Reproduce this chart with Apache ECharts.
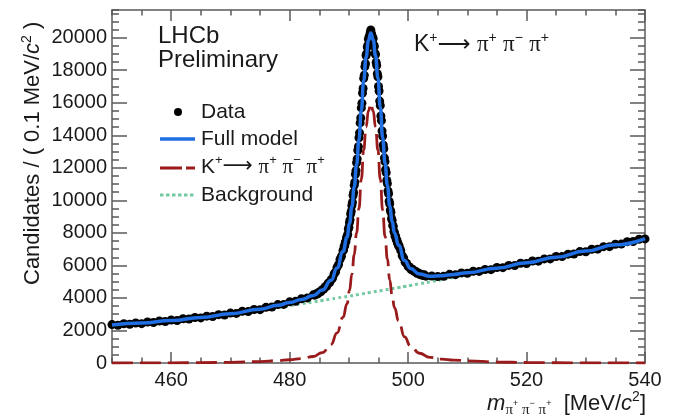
<!DOCTYPE html>
<html>
<head>
<meta charset="utf-8">
<script src="https://cdn.jsdelivr.net/npm/echarts@6/dist/echarts.min.js"></script>
<style>html,body{margin:0;padding:0;background:#fff;}#c{width:678px;height:415px;}</style>
</head>
<body>
<div id="c"></div>
<script>
// ---------- data ----------
const xMin = 450, xMax = 540, yMin = 0, yMax = 21700;
const xTickLabels = [460, 480, 500, 520, 540];
const yTickLabels = [0, 2000, 4000, 6000, 8000, 10000, 12000, 14000, 16000, 18000, 20000];

// model curves sampled on a common grid of m values (MeV/c^2)
const curveX = [450,455,460,465,470,475,478,480,482,484,485.5,487,488,489,489.7,
  490.1,490.5,490.9,491.3,491.7,492.1,492.5,492.9,493.3,493.7,
  494.1,494.5,494.9,495.3,495.7,496.1,496.5,496.9,497.3,497.7,
  498.4,499.4,500.4,501.9,503.7,505.7,507.7,510,515,520,525,530,535,540];
const fullModelY = [2330,2455,2610,2800,3030,3310,3545,3720,3910,4150,4480,5080,5840,6850,7740,
  8565,9590,10815,12190,13715,15540,17365,18790,19815,20290,
  19865,18890,17515,15740,13865,12290,10915,9640,8715,7990,
  7235,6300,5815,5470,5330,5370,5445,5550,5830,6160,6505,6878,7264,7650];
const signalY = [0,5,10,20,40,90,145,200,270,400,640,1150,1850,2800,3650,
  4450,5450,6650,8000,9500,11300,13100,14500,15500,15950,
  15500,14500,13100,11300,9400,7800,6400,5100,4150,3400,
  2600,1600,1050,600,340,240,180,130,60,30,15,8,4,0];
const backgroundY = [2330,2450,2600,2780,2990,3220,3400,3520,3640,3750,3840,3930,3990,4050,4090,
  4115,4140,4165,4190,4215,4240,4265,4290,4315,4340,
  4365,4390,4415,4440,4465,4490,4515,4540,4565,4590,
  4635,4700,4765,4870,4990,5130,5265,5420,5770,6130,6490,6870,7260,7650];

// data points: bin centres come in segments of different spacing
const dataSegments = [[450, 484, 1], [484.25, 488.75, 0.25], [489, 498.5, 0.1], [498.75, 503, 0.25], [504, 540, 1]];
const dataY = [
  2360,2320,2410,2380,2460,2420,2520,2490,2580,2550,
  2640,2610,2720,2700,2800,2770,2880,2860,2970,2950,
  3070,3050,3180,3160,3290,3280,3420,3440,3590,3600,
  3760,3790,3950,4000,4190,
  4170,4260,4250,4370,4380,4510,4540,4690,4720,4900,4940,5120,5220,5470,5600,5880,6050,6370,6560,
  6900,6950,7180,7210,7420,7460,7690,7790,7910,8230,
  8340,8640,8800,9160,9310,9680,9870,10300,10480,10920,
  11120,11600,11830,12310,12540,13080,13300,13850,14150,14760,
  15060,15680,15970,16600,16880,17500,17690,18220,18400,18900,
  19020,19420,19530,19900,20050,20120,20300,20470,20260,20150,
  19900,19950,19560,19460,19050,18960,18480,18290,17780,17600,
  17000,16720,16100,15830,15190,14900,14260,13950,13400,13170,
  12610,12380,11880,11700,11220,11030,10580,10410,9950,9780,
  9400,9270,8890,8770,8460,8400,8090,8010,7790,7800,
  7580,7570,7370,7350,7190,7180,
  6920,6600,6460,6200,6120,5930,5900,5750,5760,5630,5640,5520,5540,5430,5460,5380,5420,5340,
  5350,5310,5330,5450,5430,5540,5520,5640,5630,5750,
  5740,5870,5860,6000,5990,6130,6120,6270,6260,6400,
  6400,6550,6540,6690,6700,6850,6840,6990,7000,7150,
  7150,7300,7310,7460,7470,7610,7630
];

// ---------- build ----------
function binCentres(segs) {
  const out = [];
  segs.forEach(([a, b, s]) => {
    const n = Math.round((b - a) / s);
    for (let i = 0; i <= n; i++) out.push(Math.round((a + i * s) * 100) / 100);
  });
  return out;
}
const dataX = binCentres(dataSegments);
const dataPts = dataX.map((x, i) => [x, dataY[i]]);
const pair = (ys) => curveX.map((x, i) => [x, ys[i]]);

const FAM = '"Liberation Sans", Arial, Helvetica, sans-serif';
const SERIF = '"Liberation Serif", "Times New Roman", serif';
const TXT = '#1a1a1a';
const AX = '#5a5a5a';
const BLUE = '#1f6fe3', RED = '#991b1b', GREEN = '#74c9a2';
const f = (size, st) => (st ? st + ' ' : '') + size + 'px ' + FAM;

function rich(size, lh) {
  return {
    n: {font: f(size), fill: TXT, lineHeight: lh},
    ar: {font: size + 'px "DejaVu Sans", ' + FAM, fill: TXT, lineHeight: lh},
    it: {font: f(size, 'italic'), fill: TXT, lineHeight: lh},
    pi: {font: size + 'px ' + SERIF, fill: TXT, lineHeight: lh},
    sp: {font: f(Math.round(size * 0.62)), fill: TXT, verticalAlign: 'top'},
    sb: {font: Math.round(size * 0.66) + 'px ' + SERIF, fill: TXT, verticalAlign: 'bottom'},
    sbs: {font: f(Math.round(size * 0.42)), fill: TXT, verticalAlign: 'middle'}
  };
}
const kDecay = '{n|K}{sp|+}{ar|⟶}{n| }{pi|π}{sp|+}{n| }{pi|π}{sp|−}{n| }{pi|π}{sp|+}';

function xAxisDef(pos, major) {
  return {
    type: 'value', position: pos, min: xMin, max: xMax, interval: 5, offset: 0,
    axisLine: {show: !major, onZero: false, lineStyle: {color: AX, width: 1.5}},
    axisTick: major ? {show: true, inside: true, length: 11, customValues: xTickLabels, lineStyle: {color: AX, width: 1.5}}
                    : {show: true, inside: true, length: 5.5, lineStyle: {color: AX, width: 1.5}},
    axisLabel: (pos === 'bottom' && !major) ? {show: true, customValues: xTickLabels, formatter: (v) => String(v), fontSize: 20, fontFamily: FAM, color: TXT, margin: 7}
                                            : {show: false},
    splitLine: {show: false}, minorTick: {show: false}
  };
}
function yAxisDef(pos, major) {
  return {
    type: 'value', position: pos, min: yMin, max: yMax, interval: 500, offset: 0,
    axisLine: {show: !major, onZero: false, lineStyle: {color: AX, width: 1.5}},
    axisTick: major ? {show: true, inside: true, length: 15, customValues: yTickLabels, lineStyle: {color: AX, width: 1.5}}
                    : {show: true, inside: true, length: 7, lineStyle: {color: AX, width: 1.5}},
    axisLabel: (pos === 'left' && !major) ? {show: true, customValues: yTickLabels, formatter: (v) => String(v), fontSize: 20, fontFamily: FAM, color: TXT, margin: 5}
                                          : {show: false},
    splitLine: {show: false}, minorTick: {show: false}
  };
}

const chart = echarts.init(document.getElementById('c'), null, {renderer: 'canvas'});
chart.setOption({
  animation: false,
  backgroundColor: '#ffffff',
  grid: {left: 112, right: 33, top: 10, bottom: 52, containLabel: false, outerBoundsMode: 'none'},
  xAxis: [xAxisDef('bottom', false), xAxisDef('bottom', true), xAxisDef('top', false), xAxisDef('top', true)],
  yAxis: [yAxisDef('left', false), yAxisDef('left', true), yAxisDef('right', false), yAxisDef('right', true)],
  series: [
    {name: 'Background', type: 'line', data: pair(backgroundY), smooth: true, symbol: 'none', z: 1,
     lineStyle: {color: GREEN, width: 3, type: [3, 3]}},
    {name: 'Signal', type: 'line', data: pair(signalY), smooth: true, smoothMonotone: 'x', symbol: 'none', z: 2,
     lineStyle: {color: RED, width: 2.8, type: [21, 7]}},
    {name: 'Data', type: 'scatter', data: dataPts, symbol: 'circle', symbolSize: 9, z: 3, clip: false,
     itemStyle: {color: '#000000', opacity: 1}},
    {name: 'Full model', type: 'line', data: pair(fullModelY), smooth: true, smoothMonotone: 'x', symbol: 'none', z: 4,
     lineStyle: {color: BLUE, width: 3.5}}
  ],
  graphic: [
    {type: 'text', x: 33, y: 285, rotation: Math.PI / 2,
     style: {text: '{n|Candidates / ( 0.1 MeV/}{it|c}{sp|2}{n| )}', rich: rich(22, 26), align: 'left', verticalAlign: 'middle'}},
    {type: 'text', x: 646, y: 404,
     style: {text: '{it|m}{sb|π}{sbs|+}{sb| π}{sbs|−}{sb| π}{sbs|+}{n|  [MeV/}{it|c}{sp|2}{n|]}', rich: rich(22, 28), align: 'right', verticalAlign: 'middle'}},
    {type: 'text', x: 158, y: 36, style: {text: 'LHCb', font: f(24), fill: TXT, align: 'left', verticalAlign: 'middle'}},
    {type: 'text', x: 158, y: 60, style: {text: 'Preliminary', font: f(24), fill: TXT, align: 'left', verticalAlign: 'middle'}},
    {type: 'text', x: 414, y: 45, style: {text: kDecay, rich: rich(23, 28), align: 'left', verticalAlign: 'middle'}},
    // legend
    {type: 'circle', shape: {cx: 178, cy: 112, r: 4}, style: {fill: '#000'}},
    {type: 'text', x: 201, y: 112, style: {text: 'Data', font: f(21), fill: TXT, align: 'left', verticalAlign: 'middle'}},
    {type: 'line', shape: {x1: 160, y1: 139, x2: 195, y2: 139}, style: {stroke: BLUE, lineWidth: 3.5}},
    {type: 'text', x: 201, y: 139, style: {text: 'Full model', font: f(21), fill: TXT, align: 'left', verticalAlign: 'middle'}},
    {type: 'line', shape: {x1: 160, y1: 168, x2: 195, y2: 168}, style: {stroke: RED, lineWidth: 3, lineDash: [22, 4]}},
    {type: 'text', x: 201, y: 167, style: {text: kDecay, rich: rich(21, 26), align: 'left', verticalAlign: 'middle'}},
    {type: 'line', shape: {x1: 160, y1: 195, x2: 195, y2: 195}, style: {stroke: GREEN, lineWidth: 3, lineDash: [3.5, 2.5]}},
    {type: 'text', x: 201, y: 195, style: {text: 'Background', font: f(21), fill: TXT, align: 'left', verticalAlign: 'middle'}}
  ]
});
</script>
</body>
</html>
